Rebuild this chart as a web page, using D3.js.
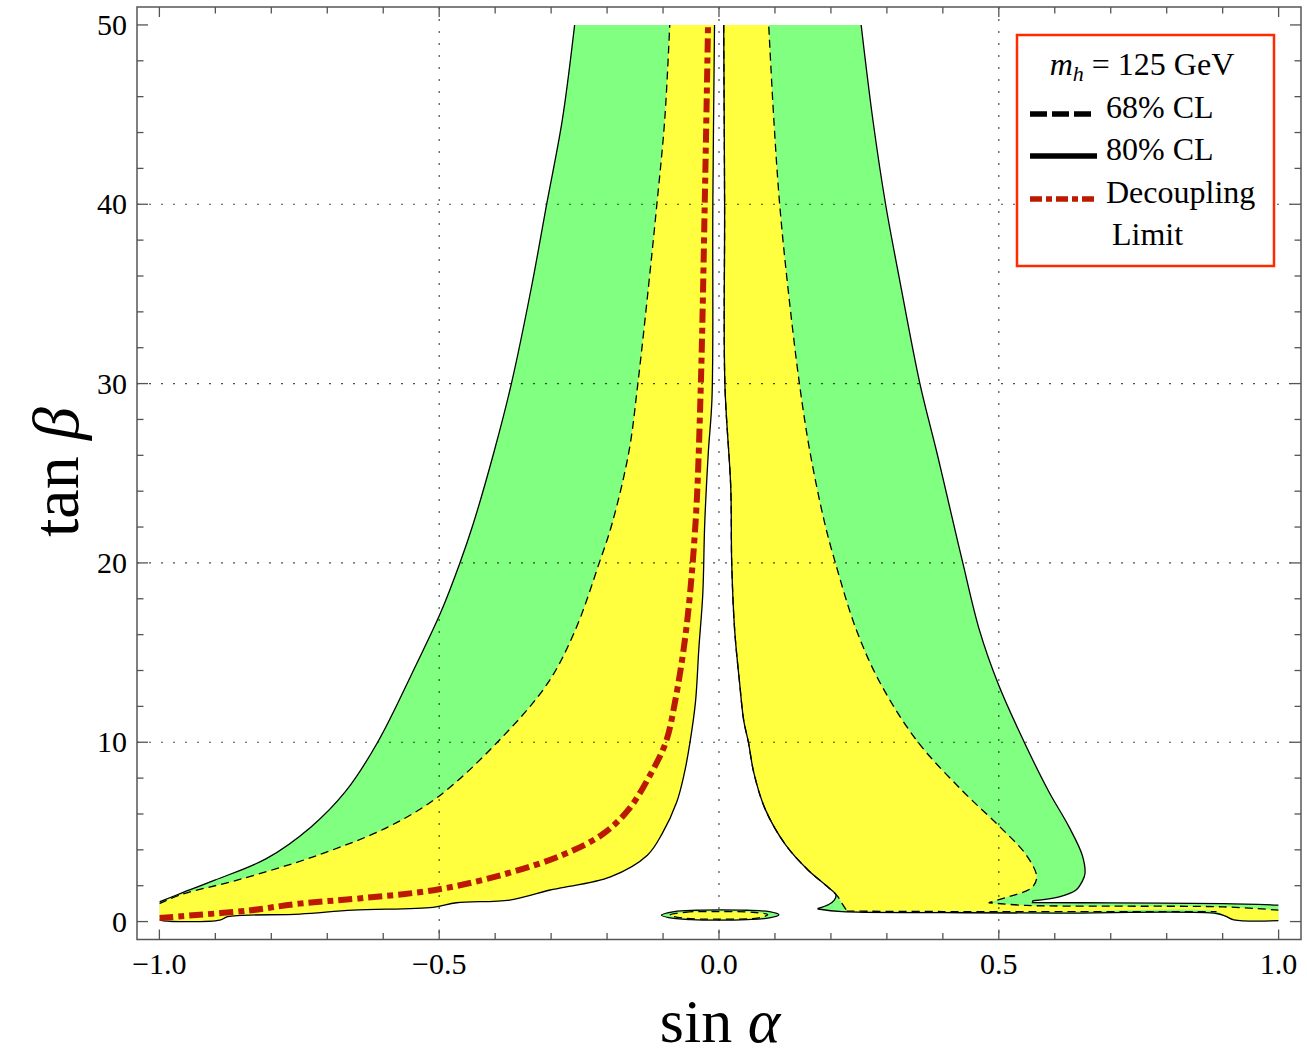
<!DOCTYPE html>
<html>
<head>
<meta charset="utf-8">
<script src="https://cdn.jsdelivr.net/npm/d3@7"></script>
<style>
  body { margin: 0; background: #fff; }
  text { font-family: "Liberation Serif", "DejaVu Serif", serif; fill: #000; }
</style>
</head>
<body>
<svg id="chart" width="1307" height="1058"></svg>
<script>
// contour data, points are [sin alpha, tan beta]

// 80% CL, left lobe: outer edge (bottom -> top) and inner edge (top -> bottom, then along the floor)
const leftOuter80 = [[-1.0,1.1],[-0.967,1.51],[-0.901,2.31],[-0.809,3.51],[-0.729,5.28],[-0.667,7.27],
  [-0.610,10],[-0.542,14.27],[-0.497,17.26],[-0.463,20],[-0.439,22.2],[-0.402,26.2],[-0.371,30],
  [-0.335,35.4],[-0.308,40],[-0.280,44.7],[-0.258,50]];
const leftInner = [[-0.008,50],[-0.011,40],[-0.0125,29.2],[-0.019,26.2],[-0.0255,22.2],[-0.029,18.24],
  [-0.036,15.23],[-0.042,12.25],[-0.052,9.96],[-0.062,8.26],[-0.0755,6.67],[-0.102,4.88],[-0.128,3.7],
  [-0.194,2.49],[-0.28,1.89],[-0.302,1.76],[-0.374,1.2],[-0.469,1.05],[-0.511,0.79],[-0.654,0.64],
  [-0.749,0.42],[-0.878,0.27],[-0.892,0.08],[-0.993,0.04],[-1.0,0.1]];
// 68% CL, left lobe outer edge (bottom -> top)
const leftOuter68 = [[-1.0,1.0],[-0.961,1.51],[-0.861,2.31],[-0.716,3.71],[-0.591,5.28],[-0.501,6.98],
  [-0.396,10],[-0.307,13.25],[-0.257,16.24],[-0.214,20],[-0.191,22.2],[-0.161,26.2],[-0.145,30],
  [-0.126,35.4],[-0.111,40],[-0.097,44.7],[-0.088,50]];

// right lobe, 80% CL
const rightInner80 = [[0.0084,50],[0.010,40],[0.0105,30],[0.021,24.2],[0.0227,20],[0.028,16.24],
  [0.037,13.25],[0.044,11.25],[0.0525,10],[0.0625,8.26],[0.0825,6.27],[0.119,4.28],[0.159,2.88],
  [0.196,1.89],[0.209,1.49],[0.206,1.2],[0.196,0.95],[0.177,0.73]];
const floor80 = [[0.177,0.7],[0.22,0.55],[0.4,0.5],[0.6,0.47],[0.889,0.45],[0.905,0.3],[0.92,0.1],[1.0,0.05]];
const strip80 = [[1.0,0.92],[0.9,1.0],[0.7,1.04],[0.56,1.06]];
const rightOuter80 = [[0.561,1.16],[0.608,1.38],[0.638,1.76],[0.65,2.3],[0.654,2.68],[0.649,3.71],
  [0.6255,5.28],[0.589,7.27],[0.5455,10],[0.499,13.25],[0.4655,16.24],[0.4357,20],[0.419,22.2],
  [0.389,26.2],[0.359,30],[0.3227,35.8],[0.2977,40],[0.275,44.7],[0.254,50]];

// right lobe, 68% CL
const rightInner68 = [[0.0084,50],[0.010,40],[0.0105,30],[0.021,24.2],[0.0227,20],[0.028,16.24],
  [0.037,13.25],[0.044,11.25],[0.0525,10],[0.0625,8.26],[0.0825,6.27],[0.119,4.28],[0.159,2.88],
  [0.196,1.89],[0.212,1.4],[0.22,1.0],[0.228,0.62]];
const floor68 = [[0.228,0.58],[0.4,0.56],[0.6,0.55],[0.889,0.55],[0.905,0.3],[0.92,0.12],[1.0,0.08]];
const strip68 = [[1.0,0.64],[0.9,0.82],[0.7,0.86],[0.55,0.9],[0.482,1.05]];
const rightOuter68 = [[0.529,1.49],[0.559,1.89],[0.5677,2.49],[0.549,3.71],[0.502,5.28],[0.4357,7.27],
  [0.3557,10],[0.289,13.25],[0.2457,16.24],[0.208,20],[0.189,22.2],[0.1625,26.2],[0.1437,30],
  [0.123,35.4],[0.1084,40],[0.098,44.7],[0.0888,50]];

// small island near the origin
const island80 = [[-0.103,0.36],[-0.08,0.56],[-0.04,0.63],[0,0.65],[0.05,0.63],[0.09,0.55],[0.107,0.38],
  [0.09,0.2],[0.05,0.11],[0,0.08],[-0.05,0.11],[-0.09,0.22]];
const island68 = [[-0.088,0.36],[-0.06,0.52],[0,0.56],[0.06,0.52],[0.087,0.38],[0.07,0.2],[0,0.14],[-0.06,0.18]];

// decoupling limit (red dash-dot)
const decoupling = [[-1.0,0.2],[-0.96,0.3],[-0.84,0.62],[-0.75,1.0],[-0.643,1.29],[-0.5,1.8],[-0.379,2.68],
  [-0.28,3.71],[-0.2075,4.88],[-0.161,6.27],[-0.1216,8.26],[-0.095,10],[-0.0786,12.25],[-0.0588,16.24],
  [-0.042,22.2],[-0.0327,29.7],[-0.0255,40],[-0.0196,50]];

const xMajor = [-1.0, -0.5, 0.0, 0.5, 1.0];
const yMajor = [0, 10, 20, 30, 40, 50];
const xGrid = [-0.5, 0, 0.5];
const yGrid = [10, 20, 30, 40];

const svg = d3.select("#chart");
const L = 137, R = 1301, T = 7, B = 939.5;

const x = d3.scaleLinear().domain([-1.04, 1.04]).range([L, R]);
const y = d3.scaleLinear().domain([-1.0, 51.0]).range([B, T]);

const smooth = d3.line().x(d => x(d[0])).y(d => y(d[1])).curve(d3.curveCatmullRom.alpha(0.5));
const smoothClosed = d3.line().x(d => x(d[0])).y(d => y(d[1])).curve(d3.curveCatmullRomClosed.alpha(0.5));

// join several smooth pieces into one path
function chain(parts) {
  return parts.map((p, i) => {
    const s = smooth(p);
    return i ? "L" + s.slice(1) : s;
  }).join("");
}
function outline(parts) { return chain(parts) + "Z"; }

svg.append("defs").append("clipPath").attr("id", "plotclip")
  .append("rect")
  .attr("x", x(-1.0)).attr("y", y(50))
  .attr("width", x(1.0) - x(-1.0)).attr("height", B - y(50));

const plot = svg.append("g").attr("clip-path", "url(#plotclip)");

const green = "#80ff80", yellow = "#ffff40";

// filled regions
plot.append("path").attr("d", outline([leftOuter80, leftInner])).attr("fill", green);
plot.append("path").attr("d", outline([rightInner80, floor80, strip80, rightOuter80])).attr("fill", green);
plot.append("path").attr("d", smoothClosed(island80)).attr("fill", green);

plot.append("path").attr("d", outline([leftOuter68, leftInner])).attr("fill", yellow);
plot.append("path").attr("d", outline([rightInner68, floor68, strip68, rightOuter68])).attr("fill", yellow);
plot.append("path").attr("d", smoothClosed(island68)).attr("fill", yellow);

// grid lines (dotted, above the fills)
const grid = svg.append("g").attr("stroke", "#000").attr("stroke-opacity", 0.7)
  .attr("stroke-width", 1.2).attr("stroke-dasharray", "2,10");
grid.selectAll(".gx").data(xGrid).join("line")
  .attr("x1", d => x(d)).attr("x2", d => x(d)).attr("y1", T).attr("y2", B);
grid.selectAll(".gy").data(yGrid).join("line")
  .attr("y1", d => y(d)).attr("y2", d => y(d)).attr("x1", L).attr("x2", R);

// contour lines
const solid = plot.append("g").attr("fill", "none").attr("stroke", "#000").attr("stroke-width", 1.3);
solid.append("path").attr("d", smooth(leftOuter80));
solid.append("path").attr("d", smooth(leftInner));
solid.append("path").attr("d", chain([rightInner80, floor80]));
solid.append("path").attr("d", chain([strip80, rightOuter80]));
solid.append("path").attr("d", smoothClosed(island80));

const dashed = plot.append("g").attr("fill", "none").attr("stroke", "#000")
  .attr("stroke-width", 1.3).attr("stroke-dasharray", "8,5");
dashed.append("path").attr("d", smooth(leftOuter68));
dashed.append("path").attr("d", smooth(rightInner68));
dashed.append("path").attr("d", smooth(floor68.slice(0, 4)));
dashed.append("path").attr("d", chain([strip68, rightOuter68]));
dashed.append("path").attr("d", smoothClosed(island68));

// decoupling limit
plot.append("path").attr("d", smooth(decoupling))
  .attr("fill", "none").attr("stroke", "#bb1a00").attr("stroke-width", 6)
  .attr("stroke-dasharray", "14,5,6,5");

// frame
svg.append("rect").attr("x", L).attr("y", T).attr("width", R - L).attr("height", B - T)
  .attr("fill", "none").attr("stroke", "#555").attr("stroke-width", 1.5);

// ticks
const xMinor = d3.range(-10, 11).map(i => i / 10).filter(v => !xMajor.some(m => Math.abs(m - v) < 1e-9));
const yMinor = d3.range(0, 51, 2).filter(v => v % 10 !== 0);
const ticks = svg.append("g").attr("stroke", "#555").attr("stroke-width", 1.3);
function xTicks(vals, len) {
  ticks.selectAll(null).data(vals).join("line")
    .attr("x1", d => x(d)).attr("x2", d => x(d)).attr("y1", B).attr("y2", B - len);
  ticks.selectAll(null).data(vals).join("line")
    .attr("x1", d => x(d)).attr("x2", d => x(d)).attr("y1", T).attr("y2", T + len);
}
function yTicks(vals, len) {
  ticks.selectAll(null).data(vals).join("line")
    .attr("y1", d => y(d)).attr("y2", d => y(d)).attr("x1", L).attr("x2", L + len);
  ticks.selectAll(null).data(vals).join("line")
    .attr("y1", d => y(d)).attr("y2", d => y(d)).attr("x1", R).attr("x2", R - len);
}
xTicks(xMajor, 10); xTicks(xMinor, 6.5);
yTicks(yMajor, 11); yTicks(yMinor, 6.5);

const fmtX = d3.format(".1f");
svg.append("g").selectAll("text").data(xMajor).join("text")
  .attr("x", d => x(d)).attr("y", 974).attr("text-anchor", "middle")
  .attr("font-size", 30).text(d => fmtX(d));
svg.append("g").selectAll("text").data(yMajor).join("text")
  .attr("x", 127).attr("y", d => y(d) + 10).attr("text-anchor", "end")
  .attr("font-size", 30).text(d => d);

// axis titles
const xt = svg.append("text").attr("x", 720).attr("y", 1042).attr("text-anchor", "middle").attr("font-size", 62);
xt.append("tspan").text("sin ");
xt.append("tspan").attr("font-style", "italic").text("α");
const yt = svg.append("text").attr("transform", "translate(78,472) rotate(-90)")
  .attr("text-anchor", "middle").attr("font-size", 66);
yt.append("tspan").text("tan ");
yt.append("tspan").attr("font-style", "italic").text("β");

// legend
const lg = svg.append("g");
lg.append("rect").attr("x", 1017).attr("y", 35).attr("width", 257).attr("height", 231)
  .attr("fill", "#fff").attr("stroke", "#ff2a00").attr("stroke-width", 2.5);
const t0 = lg.append("text").attr("x", 1142).attr("y", 75).attr("text-anchor", "middle").attr("font-size", 32);
t0.append("tspan").attr("font-style", "italic").text("m");
t0.append("tspan").attr("font-style", "italic").attr("font-size", 22).attr("dy", 6).text("h");
t0.append("tspan").attr("dy", -6).text(" = 125 GeV");

lg.append("line").attr("x1", 1030).attr("x2", 1091).attr("y1", 114).attr("y2", 114)
  .attr("stroke", "#000").attr("stroke-width", 5.5).attr("stroke-dasharray", "17,5");
lg.append("text").attr("x", 1106).attr("y", 118).attr("font-size", 32).text("68% CL");
lg.append("line").attr("x1", 1030).attr("x2", 1097).attr("y1", 156).attr("y2", 156)
  .attr("stroke", "#000").attr("stroke-width", 5.5);
lg.append("text").attr("x", 1106).attr("y", 160).attr("font-size", 32).text("80% CL");
lg.append("line").attr("x1", 1030).attr("x2", 1097).attr("y1", 199).attr("y2", 199)
  .attr("stroke", "#bb1a00").attr("stroke-width", 5.5).attr("stroke-dasharray", "12,4,6,4");
lg.append("text").attr("x", 1106).attr("y", 203).attr("font-size", 32).text("Decoupling");
lg.append("text").attr("x", 1112).attr("y", 245).attr("font-size", 32).text("Limit");
</script>
</body>
</html>
